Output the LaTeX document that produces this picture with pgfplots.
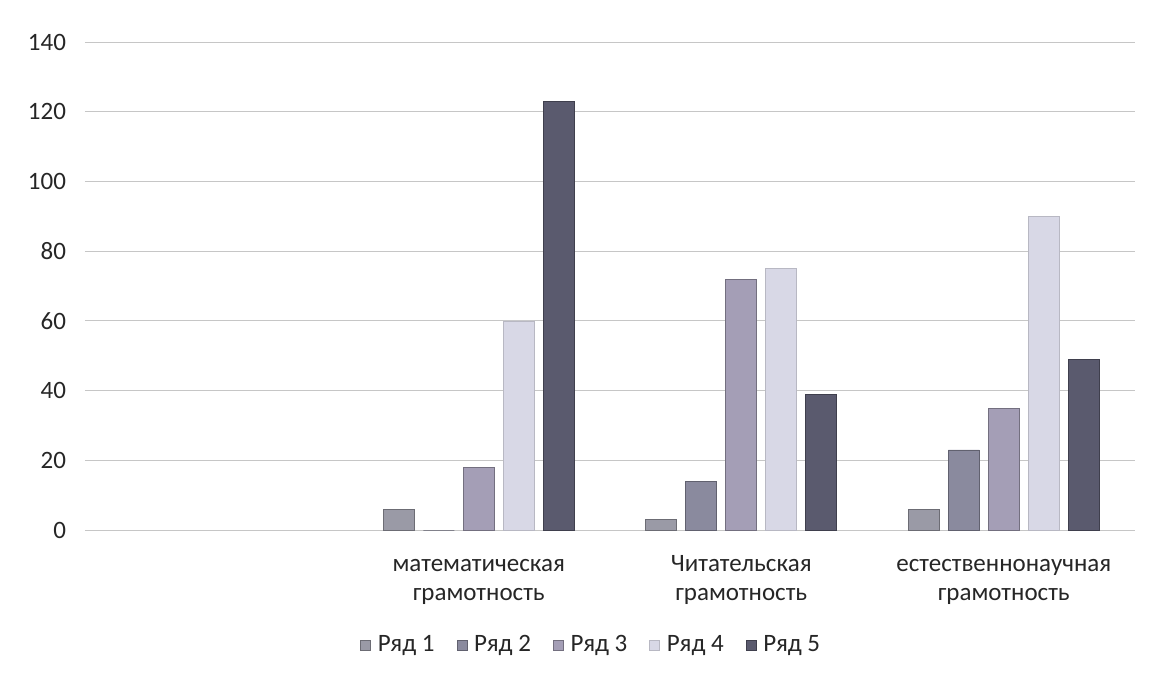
\documentclass[border=0pt]{standalone}
\usepackage{fontspec}
\setmainfont{Carlito}
\usepackage{pgfplots}
\pgfplotsset{compat=1.18}

\definecolor{rA}{HTML}{9A9AA6}
\definecolor{rB}{HTML}{8A8A9E}
\definecolor{rC}{HTML}{A49EB6}
\definecolor{rD}{HTML}{D8D8E6}
\definecolor{rE}{HTML}{5A5A6E}

\begin{document}
\begin{tikzpicture}
\useasboundingbox (-42.5pt,-72.5pt) rectangle (532.5pt,265pt);
\begin{axis}[
    at={(0,0)}, anchor=south west,
    scale only axis,
    width=525pt, height=244pt,
    ybar=4.5pt, bar width=15.5pt,
    xmin=-0.5, xmax=3.5,
    ymin=0, ymax=140,
    ytick={0,20,...,140},
    xtick={0,1,2,3},
    xticklabels={{}, {\strut математическая\\\strut грамотность}, {\strut Читательская\\\strut грамотность}, {\strut естественнонаучная\\\strut грамотность}},
    xticklabel style={align=center, font=\fontsize{12.5}{14.5}\selectfont, text=black!85, yshift=-7pt},
    yticklabel style={font=\fontsize{12.5}{14}\selectfont, text=black!85, xshift=-6pt},
    /pgf/number format/assume math mode=true,
    axis line style={draw=none},
    major tick length=0pt,
    ymajorgrids,
    grid style={gray!45, line width=0.5pt},
    legend columns=5,
    legend style={at={(0.483,-0.236)}, anchor=center, draw=none,
        font=\fontsize{12.5}{14}\selectfont, text=black!85,
        /tikz/every odd column/.append style={column sep=1.5pt},
        /tikz/every even column/.append style={column sep=9pt}},
    legend image code/.code={\fill[#1] (0pt,-2.5pt) rectangle (5pt,2.5pt);},
]
\addplot[fill=rA, draw=rA!70!black, line width=0.3pt] coordinates {(1,6) (2,3) (3,6)};
\addplot[fill=rB, draw=rB!70!black, line width=0.3pt] coordinates {(1,0) (2,14) (3,23)};
\addplot[fill=rC, draw=rC!70!black, line width=0.3pt] coordinates {(1,18) (2,72) (3,35)};
\addplot[fill=rD, draw=rD!85!black, line width=0.3pt] coordinates {(1,60) (2,75) (3,90)};
\addplot[fill=rE, draw=rE!70!black, line width=0.3pt] coordinates {(1,123) (2,39) (3,49)};
\legend{Ряд 1, Ряд 2, Ряд 3, Ряд 4, Ряд 5}
\end{axis}
\end{tikzpicture}
\end{document}
